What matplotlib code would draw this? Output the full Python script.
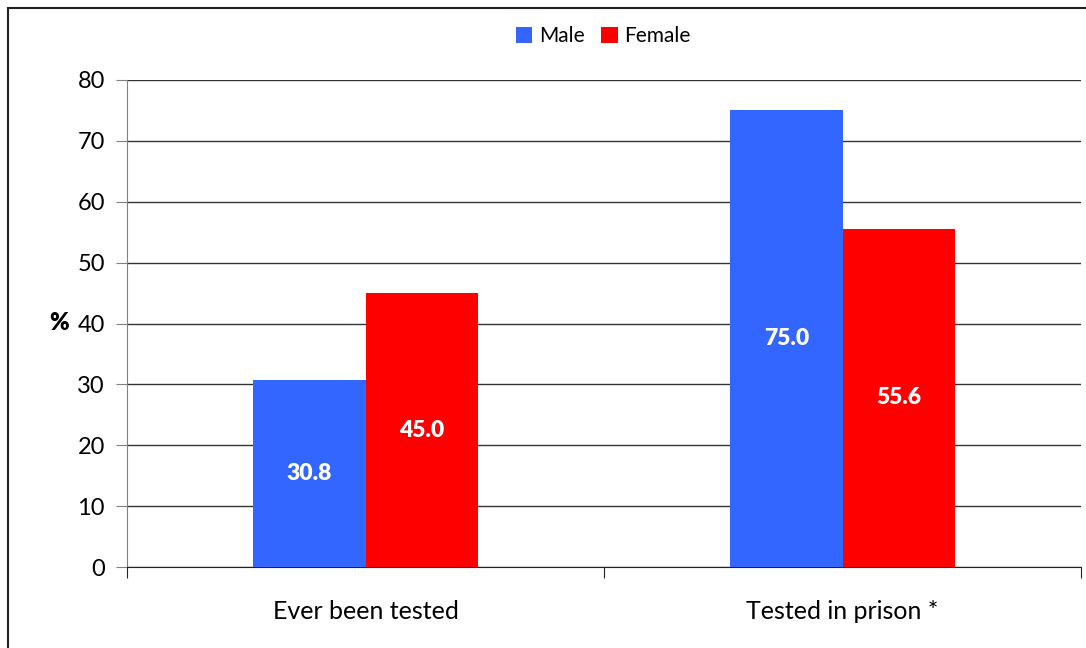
import matplotlib.pyplot as plt
import numpy as np
from matplotlib.patches import Rectangle

plt.rcParams['font.family'] = ['Lato', 'DejaVu Sans']

categories = ['Ever been tested', 'Tested in prison *']
male = [30.8, 75.0]
female = [45.0, 55.6]

fig = plt.figure(figsize=(10.86, 6.48), dpi=100)
ax = fig.add_axes([127/1086, 1 - 567/648, (1081-127)/1086, (567-80)/648])

# outer frame around the chart area
fig.patches.append(Rectangle((8/1086, -0.1), 1.2, 1 - 8/648 + 0.1, transform=fig.transFigure,
                             fill=False, edgecolor='#222222', linewidth=1.5))

x = np.arange(len(categories))
w = 0.235
b1 = ax.bar(x - w/2, male, w, color='#3366FF', label='Male', zorder=3)
b2 = ax.bar(x + w/2, female, w, color='#FF0000', label='Female', zorder=3)

for bars, vals in [(b1, male), (b2, female)]:
    for r, v in zip(bars, vals):
        ax.text(r.get_x() + r.get_width()/2, v/2, '%.1f' % v, ha='center', va='center',
                color='white', fontsize=16.5, fontweight='heavy', zorder=4)

ax.set_xlim(-0.5, 1.5)
ax.set_ylim(0, 80)
ax.set_yticks(range(0, 81, 10))
ax.yaxis.grid(True, color='#333333', linewidth=1)
ax.set_axisbelow(True)
ax.tick_params(axis='y', labelsize=17, length=8, color='#808080', pad=8)

ax.set_xticks([-0.5, 0.5, 1.5])
ax.set_xticks(x, minor=True)
ax.set_xticklabels([])
ax.set_xticklabels(categories, minor=True)
ax.tick_params(axis='x', which='major', length=8, color='#222222')
ax.tick_params(axis='x', which='minor', length=0, labelsize=18, pad=24)

for s in ['top', 'right']:
    ax.spines[s].set_visible(False)
ax.spines['left'].set_color('#808080')
ax.spines['bottom'].set_color('#222222')

ax.set_ylabel('%', rotation=0, fontsize=17, fontweight='heavy', labelpad=13, va='center')

fig.legend(loc='center', bbox_to_anchor=(603/1086, 1 - 36/648), ncol=2, frameon=False,
           fontsize=15, handlelength=0.8, handleheight=0.8, handletextpad=0.3, columnspacing=0.8)

fig.savefig('out.png', dpi=100)
